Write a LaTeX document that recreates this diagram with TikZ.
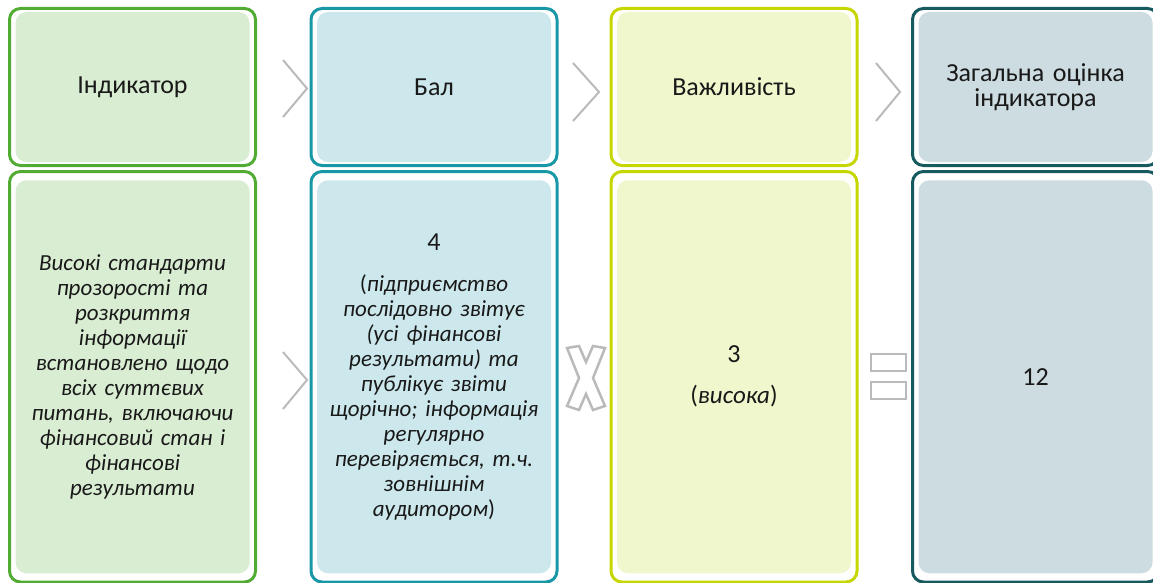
\documentclass[tikz,border=0pt]{standalone}
\usepackage{fontspec}
\setmainfont{Carlito}[WordSpace=0.75]
\usepackage{xcolor}

\definecolor{indframe}{RGB}{82,172,52}
\definecolor{indfill}{RGB}{217,237,211}
\definecolor{balframe}{RGB}{24,152,166}
\definecolor{balfill}{RGB}{205,232,236}
\definecolor{vagframe}{RGB}{198,214,0}
\definecolor{vagfill}{RGB}{241,247,204}
\definecolor{sumframe}{RGB}{22,90,96}
\definecolor{sumfill}{RGB}{205,220,224}
\definecolor{signgray}{RGB}{186,186,186}

\begin{document}
\begin{tikzpicture}[x=1pt,y=-1pt]
  \tikzset{frame/.style = {draw,line width=3pt,rounded corners=11pt,fill=white,minimum width=246pt,inner sep=0pt}}
  \tikzset{panel/.style = {rounded corners=11pt,minimum width=234pt,inner sep=0pt,text width=222pt,align=center,text=black!90}}
  \tikzset{head/.style = {font=\fontsize{26}{25}\selectfont}}
  \tikzset{body/.style = {font=\fontsize{23}{25}\selectfont}}
  \tikzset{chev/.style = {draw=signgray,line width=2pt}}
  \tikzset{sign/.style = {draw=signgray,line width=2.5pt,fill=white}}

  \useasboundingbox (0,0) rectangle (1153,583);

  \foreach \name/\x/\frm in {ind/132.5/indframe,bal/434/balframe,vag/734/vagframe,sum/1035.5/sumframe}{
    \node[frame,draw=\frm,minimum height=157pt] (\name-top) at (\x,87) {};
    \node[frame,draw=\frm,minimum height=410.5pt] (\name-bot) at (\x,376.75) {};
  }

  \node[panel,head,fill=indfill,minimum height=150pt] (ind-head) at (ind-top) {Індикатор};
  \node[panel,head,fill=balfill,minimum height=150pt] (bal-head) at (bal-top) {Бал};
  \node[panel,head,fill=vagfill,minimum height=150pt] (vag-head) at (vag-top) {Важливість};
  \node[panel,head,fill=sumfill,minimum height=150pt] (sum-head) at (sum-top) {Загальна оцінка\\ індикатора};

  \node[panel,body,fill=indfill,minimum height=393pt] (ind-text) at (ind-bot)
    {\itshape Високі стандарти\\ прозорості та\\ розкриття\\ інформації\\ встановлено щодо\\ всіх суттєвих\\ питань, включаючи\\ фінансовий стан і\\ фінансові\\ результати};
  \node[panel,body,fill=balfill,minimum height=393pt] (bal-text) at (bal-bot)
    {{\fontsize{26}{25}\selectfont 4}\\[16pt]
     {\upshape(}\itshape підприємство\\ послідовно звітує\\ (усі фінансові\\ результати) та\\ публікує звіти\\ щорічно; інформація\\ регулярно\\ перевіряється, т.ч.\\ зовнішнім\\ аудитором{\upshape)}};
  \node[panel,body,fill=vagfill,minimum height=393pt] (vag-text) at (vag-bot)
    {{\fontsize{26}{25}\selectfont 3}\\[16pt]
     {\fontsize{25}{25}\selectfont(\textit{висока})}};
  \node[panel,head,fill=sumfill,minimum height=393pt] (sum-text) at (sum-bot) {12};

  \draw[chev] (283,60) -- (307,88.5) -- (283,117);
  \draw[chev] (573,63) -- (599,92) -- (573,121);
  \draw[chev] (876,63) -- (900,92) -- (876,121);
  \draw[chev] (283,352) -- (307,380) -- (283,409);

  \draw[sign,line join=miter] (586,378) +(-19,-30) -- +(-7,-32) -- +(0,-16) -- +(7,-32) -- +(19,-30) -- +(7,0)
    -- +(19,28) -- +(7,32) -- +(0,16) -- +(-7,32) -- +(-19,28) -- +(-7,0) -- cycle;
  \draw[sign] (871,354) rectangle (906,371);
  \draw[sign] (871,382) rectangle (906,399);
\end{tikzpicture}
\end{document}
